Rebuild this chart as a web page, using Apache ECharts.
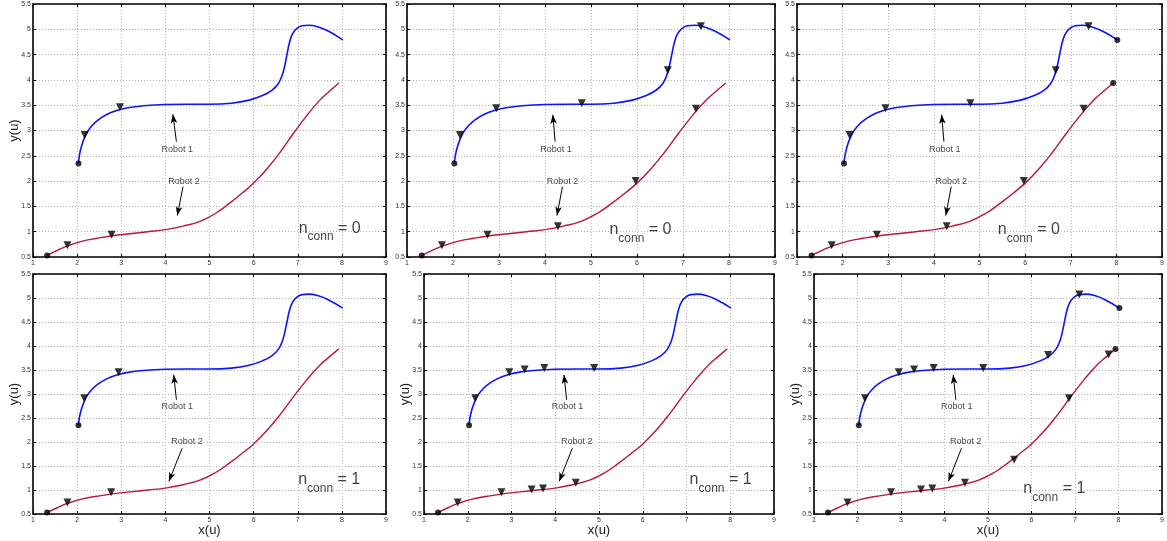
<!DOCTYPE html>
<html><head><meta charset="utf-8">
<script src="https://cdn.jsdelivr.net/npm/echarts@6/dist/echarts.min.js"></script>
<style>html,body{margin:0;padding:0;background:#fff}#c{width:1167px;height:541px}</style>
</head><body><div id="c"></div>
<script>
// ---- data ----
const robot1Path = [[2.03,2.35],[2.05,2.50],[2.09,2.66],[2.15,2.82],[2.23,2.97],[2.34,3.10],[2.48,3.21],[2.66,3.31],[2.88,3.39],[3.15,3.45],[3.5,3.49],[4.0,3.515],[4.5,3.52],[5.0,3.52],[5.5,3.54],[5.9,3.60],[6.2,3.69],[6.42,3.80],[6.56,3.93],[6.65,4.10],[6.71,4.30],[6.76,4.52],[6.81,4.73],[6.88,4.91],[6.98,5.02],[7.1,5.07],[7.25,5.08],[7.45,5.05],[7.7,4.96],[8.02,4.79]];
const robot2Path = [[1.32,0.53],[1.55,0.63],[1.78,0.72],[2.1,0.81],[2.45,0.87],[2.8,0.92],[3.2,0.96],[3.6,1.0],[4.0,1.04],[4.4,1.11],[4.8,1.21],[5.15,1.37],[5.45,1.56],[5.75,1.77],[6.0,1.96],[6.3,2.24],[6.6,2.57],[6.9,2.94],[7.2,3.29],[7.5,3.60],[7.75,3.80],[7.93,3.94]];

const startDots = [[2.03,2.35],[1.32,0.53]];
const endDots = [[8.02,4.79],[7.93,3.94]];

const p1Marks = [[2.17,2.89],[2.97,3.44],[1.78,0.71],[2.78,0.92]];
const p2Marks = [[2.15,2.89],[2.94,3.42],[4.80,3.52],[6.67,4.17],[7.39,5.04],[1.76,0.71],[2.75,0.92],[4.28,1.09],[5.97,1.98],[7.28,3.41]];
const p3Marks = p2Marks;
const p4Marks = [[2.16,2.89],[2.94,3.43],[1.78,0.72],[2.77,0.93]];
const p5Marks = [[2.17,2.89],[2.95,3.43],[3.30,3.49],[3.75,3.52],[4.89,3.52],[1.77,0.72],[2.77,0.93],[3.46,0.99],[3.72,1.01],[4.47,1.13]];
const p6Marks = p5Marks.concat([[6.38,3.79],[7.10,5.05],[5.60,1.61],[6.86,2.89],[7.77,3.80]]);

const connValues = [0, 0, 0, 1, 1, 1];
const connPos = [[7.02,1.07],[5.40,1.04],[5.40,1.04],[7.01,1.21],[7.07,1.21],[5.81,1.03]];
const robot1Text = [[4.27,2.62],[4.24,2.62],[4.24,2.62],[4.27,2.74],[4.28,2.74],[4.28,2.74]];
const robot2Text = [[4.42,2.00],[4.38,2.00],[4.38,2.00],[4.49,2.00],[4.49,2.00],[4.49,2.00]];
const robot1Arrow = [[[4.25,2.78],[4.17,3.32]],[[4.22,2.78],[4.17,3.31]],[[4.22,2.78],[4.17,3.31]],[[4.25,2.88],[4.19,3.40]],[[4.26,2.88],[4.20,3.40]],[[4.26,2.88],[4.20,3.40]]];
const robot2Arrow = [[[4.40,1.89],[4.27,1.32]],[[4.38,1.89],[4.26,1.32]],[[4.38,1.89],[4.26,1.32]],[[4.38,1.87],[4.08,1.18]],[[4.39,1.87],[4.09,1.18]],[[4.39,1.87],[4.09,1.18]]];

const panelMarks = [p1Marks, p2Marks, p3Marks, p4Marks, p5Marks, p6Marks];
const panelEndDots = [false, false, true, false, false, true];
const showYName = [true, false, false, true, true, true];
const showXName = [false, false, false, true, true, true];

// ---- layout ----
const grids = [
  {left:33, top:4, width:353, height:253},
  {left:407, top:4, width:368, height:253},
  {left:797, top:4, width:368, height:253},
  {left:33, top:274, width:353, height:240},
  {left:424, top:274, width:350, height:240},
  {left:814, top:274, width:350, height:240}
];

const FONT = 'Liberation Sans, Arial, Helvetica, sans-serif';
const frameLine = {show:true, onZero:false, lineStyle:{color:'#000', width:1.6}};
const tick = {show:true, inside:true, length:3, lineStyle:{color:'#000', width:1}};
const split = {show:true, lineStyle:{type:[1,2], color:'#b4b4b4', width:1}};

const xAxis = [], yAxis = [], series = [];
grids.forEach((g, i) => {
  xAxis.push({type:'value', gridIndex:i, min:1, max:9, interval:1, position:'bottom',
    axisLine:frameLine, axisTick:tick, splitLine:split,
    axisLabel:{fontSize:7, color:'#333', margin:3, fontFamily:FONT},
    name: showXName[i] ? 'x(u)' : '', nameLocation:'middle', nameGap:10, nameMoveOverlap:false,
    nameTextStyle:{fontSize:13, color:'#222', fontFamily:FONT}});
  xAxis.push({type:'value', gridIndex:i, min:1, max:9, interval:1, position:'top',
    axisLine:frameLine, axisTick:tick, splitLine:{show:false}, axisLabel:{show:false}});
  yAxis.push({type:'value', gridIndex:i, min:0.5, max:5.5, interval:0.5, position:'left',
    axisLine:frameLine, axisTick:tick, splitLine:split,
    axisLabel:{fontSize:7, color:'#333', margin:2, fontFamily:FONT},
    name: showYName[i] ? 'y(u)' : '', nameLocation:'middle', nameGap:12, nameMoveOverlap:false,
    nameTextStyle:{fontSize:13, color:'#222', fontFamily:FONT}});
  yAxis.push({type:'value', gridIndex:i, min:0.5, max:5.5, interval:0.5, position:'right',
    axisLine:frameLine, axisTick:tick, splitLine:{show:false}, axisLabel:{show:false}});

  const xi = 2*i, yi = 2*i;
  series.push({type:'line', xAxisIndex:xi, yAxisIndex:yi, data:robot1Path, symbol:'none',
    smooth:0.45, lineStyle:{color:'#0a14ff', width:1.6}, z:2});
  series.push({type:'line', xAxisIndex:xi, yAxisIndex:yi, data:robot2Path, symbol:'none',
    smooth:0.45, lineStyle:{color:'#b8173a', width:1.4}, z:2});
  series.push({type:'scatter', xAxisIndex:xi, yAxisIndex:yi, data:panelMarks[i],
    symbol:'triangle', symbolRotate:180, symbolSize:[8,8], symbolOffset:[0,-1],
    itemStyle:{color:'#000'}, z:3});
  series.push({type:'scatter', xAxisIndex:xi, yAxisIndex:yi,
    data: panelEndDots[i] ? startDots.concat(endDots) : startDots,
    symbol:'circle', symbolSize:6, itemStyle:{color:'#000'}, z:3});
  series.push({type:'scatter', xAxisIndex:xi, yAxisIndex:yi, symbolSize:1,
    itemStyle:{color:'transparent'}, silent:true, z:4,
    data:[{value:robot1Text[i], name:'Robot 1'},{value:robot2Text[i], name:'Robot 2'}],
    label:{show:true, position:'inside', formatter:'{b}', fontSize:9, color:'#111', fontFamily:FONT},
    markLine:{silent:true, symbol:['none','arrow'], symbolSize:[5,9],
      lineStyle:{color:'#000', width:1, type:'solid'}, label:{show:false},
      data:[
        [{coord:robot1Arrow[i][0]},{coord:robot1Arrow[i][1]}],
        [{coord:robot2Arrow[i][0]},{coord:robot2Arrow[i][1]}]
      ]}
  });
  series.push({type:'scatter', xAxisIndex:xi, yAxisIndex:yi, symbolSize:1,
    itemStyle:{color:'transparent'}, silent:true, z:4,
    data:[{value:connPos[i], name:String(connValues[i])}],
    label:{show:true, position:'inside', align:'left', verticalAlign:'middle',
      formatter: p => '{a|n}{b|conn}{a| = ' + p.name + '}',
      rich:{
        a:{fontSize:16, lineHeight:30, verticalAlign:'middle', color:'#111', fontFamily:FONT},
        b:{fontSize:12, lineHeight:14, verticalAlign:'bottom', color:'#111', fontFamily:FONT}
      }}
  });
});

const chart = echarts.init(document.getElementById('c'), null, {renderer:'canvas'});
chart.setOption({animation:false, backgroundColor:'#fff', grid:grids, xAxis, yAxis, series});
</script></body></html>
